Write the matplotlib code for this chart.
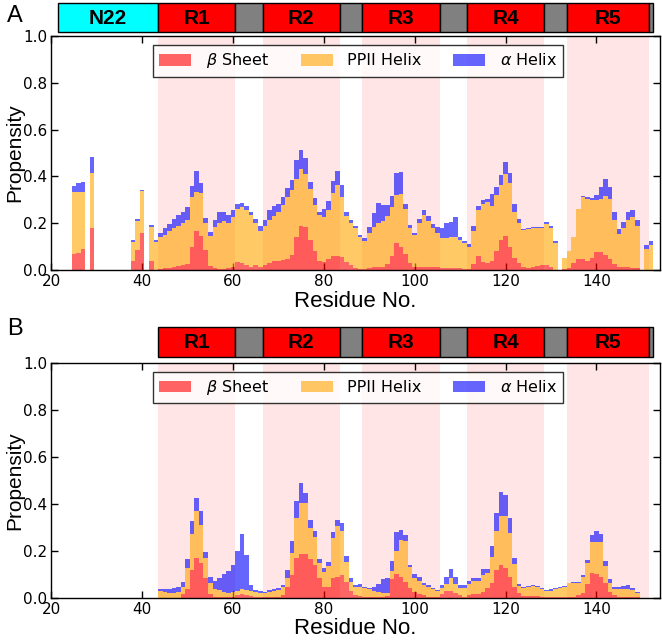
import numpy as np
import matplotlib
matplotlib.use("Agg")
import matplotlib.pyplot as plt
from matplotlib.patches import Rectangle

plt.rcParams['font.family'] = ['DejaVu Sans']

# ---------------- data ----------------
# Panel A residues (gaps = no data)
residues_A = [25, 26, 27, 29, 38, 39, 40] + list(range(42, 132)) + list(range(133, 150)) + [151, 152]
beta_A = [0.07, 0.072, 0.09, 0.18, 0.04, 0.087, 0.16,
          0.04, 0.0, 0.005, 0.007, 0.01, 0.013, 0.016, 0.02, 0.026, 0.1,
          0.166, 0.145, 0.085, 0.018, 0.008, 0.006, 0.006, 0.01, 0.015, 0.035,
          0.03, 0.02, 0.015, 0.02, 0.015, 0.02, 0.03, 0.04, 0.04, 0.042,
          0.045, 0.065, 0.14, 0.19, 0.185, 0.13, 0.08, 0.04, 0.035, 0.045,
          0.06, 0.058, 0.055, 0.035, 0.02, 0.01, 0.005, 0.005, 0.01, 0.012,
          0.012, 0.015, 0.026, 0.06, 0.114, 0.1, 0.07, 0.03, 0.015, 0.012,
          0.015, 0.015, 0.012, 0.012, 0.01, 0.008, 0.008, 0.01, 0.008, 0.006,
          0.005, 0.025, 0.06, 0.035, 0.028, 0.04, 0.08, 0.128, 0.145, 0.1,
          0.05, 0.03, 0.015, 0.01, 0.015, 0.018, 0.02, 0.02, 0.012, 0.0,
          0.005, 0.01, 0.03, 0.045, 0.045, 0.04, 0.05, 0.075, 0.075, 0.065,
          0.045, 0.025, 0.015, 0.015, 0.012, 0.01, 0.01,
          0.0, 0.0]
ppii_A = [0.265, 0.263, 0.245, 0.235, 0.08, 0.123, 0.178,
          0.143, 0.12, 0.135, 0.143, 0.155, 0.165, 0.174, 0.18, 0.189, 0.21,
          0.169, 0.185, 0.115, 0.127, 0.177, 0.194, 0.204, 0.19, 0.21, 0.225,
          0.24, 0.235, 0.22, 0.18, 0.153, 0.17, 0.185, 0.192, 0.207, 0.234,
          0.265, 0.275, 0.25, 0.24, 0.225, 0.215, 0.2, 0.195, 0.19, 0.21,
          0.27, 0.307, 0.255, 0.195, 0.18, 0.17, 0.135, 0.121, 0.15, 0.171,
          0.188, 0.195, 0.207, 0.21, 0.206, 0.225, 0.19, 0.15, 0.135, 0.188,
          0.22, 0.195, 0.168, 0.148, 0.125, 0.127, 0.132, 0.13, 0.122, 0.109,
          0.095, 0.141, 0.195, 0.248, 0.262, 0.232, 0.24, 0.234, 0.265, 0.27,
          0.197, 0.17, 0.155, 0.165, 0.163, 0.162, 0.16, 0.175, 0.168, 0.115,
          0.045, 0.07, 0.11, 0.215, 0.265, 0.265, 0.25, 0.225, 0.23, 0.25,
          0.26, 0.19, 0.14, 0.165, 0.203, 0.215, 0.18,
          0.09, 0.105]
alpha_A = [0.025, 0.035, 0.043, 0.069, 0.01, 0.01, 0.005,
           0.01, 0.01, 0.02, 0.03, 0.032, 0.038, 0.045, 0.05, 0.055, 0.05,
           0.09, 0.042, 0.022, 0.017, 0.027, 0.046, 0.04, 0.035, 0.032, 0.023,
           0.015, 0.017, 0.015, 0.016, 0.018, 0.022, 0.042, 0.04, 0.035, 0.034,
           0.04, 0.045, 0.08, 0.085, 0.068, 0.03, 0.028, 0.015, 0.037, 0.04,
           0.052, 0.058, 0.055, 0.02, 0.012, 0.01, 0.01, 0.01, 0.025, 0.062,
           0.086, 0.07, 0.043, 0.048, 0.095, 0.094, 0.023, 0.012, 0.01, 0.02,
           0.022, 0.02, 0.018, 0.025, 0.045, 0.065, 0.065, 0.086, 0.01, 0.011,
           0.012, 0.02, 0.017, 0.015, 0.015, 0.054, 0.035, 0.043, 0.052, 0.045,
           0.036, 0.019, 0.006, 0.005, 0.005, 0.005, 0.005, 0.01, 0.01, 0.01,
           0.0, 0.0, 0.0, 0.002, 0.005, 0.007, 0.009, 0.019, 0.05, 0.075,
           0.05, 0.035, 0.021, 0.025, 0.032, 0.033, 0.022,
           0.017, 0.021]

# Panel B residues
residues_B = list(range(44, 150))
beta_B = [0, 0, 0, 0, 0, 0.015, 0.035, 0.12, 0.168, 0.148,
          0.082, 0.016, 0.004, 0.003, 0.003, 0.003, 0.004, 0.01, 0.017, 0.012,
          0.007, 0.003, 0.003, 0.003, 0.003, 0.005, 0.005, 0.012, 0.045, 0.095,
          0.17, 0.188, 0.185, 0.165, 0.14, 0.085, 0.045, 0.045, 0.085, 0.09,
          0.095, 0.065, 0.03, 0.012, 0.008, 0.005, 0.005, 0.003, 0.004, 0.005,
          0.006, 0.08, 0.1, 0.09, 0.065, 0.04, 0.025, 0.015, 0.01, 0.005,
          0.005, 0.005, 0.015, 0.03, 0.03, 0.02, 0.01, 0.005, 0.012, 0.015,
          0.015, 0.025, 0.04, 0.061, 0.118, 0.139, 0.128, 0.09, 0.047, 0.018,
          0.008, 0.006, 0.006, 0.006, 0.005, 0.004, 0.004, 0.004, 0.004, 0.005,
          0.005, 0.005, 0.01, 0.02, 0.06, 0.105, 0.1, 0.09, 0.062, 0.025,
          0.01, 0.005, 0.005, 0.005, 0.005, 0.005]
ppii_B = [0.03, 0.024, 0.021, 0.021, 0.025, 0.032, 0.09, 0.149, 0.201, 0.163,
          0.087, 0.045, 0.031, 0.03, 0.022, 0.019, 0.022, 0.02, 0.018, 0.02,
          0.023, 0.022, 0.015, 0.017, 0.022, 0.025, 0.028, 0.033, 0.04, 0.095,
          0.17, 0.217, 0.217, 0.13, 0.118, 0.062, 0.066, 0.088, 0.169, 0.217,
          0.191, 0.089, 0.036, 0.033, 0.037, 0.037, 0.031, 0.027, 0.021, 0.017,
          0.014, 0.035, 0.1, 0.155, 0.175, 0.09, 0.06, 0.055, 0.045, 0.04,
          0.03, 0.023, 0.025, 0.03, 0.055, 0.04, 0.03, 0.035, 0.048, 0.055,
          0.055, 0.07, 0.064, 0.111, 0.164, 0.207, 0.218, 0.187, 0.097, 0.032,
          0.032, 0.041, 0.044, 0.041, 0.031, 0.026, 0.026, 0.032, 0.036, 0.042,
          0.056, 0.059, 0.054, 0.067, 0.087, 0.13, 0.139, 0.149, 0.075, 0.036,
          0.027, 0.031, 0.032, 0.032, 0.028, 0.015]
alpha_B = [0.007, 0.012, 0.017, 0.022, 0.019, 0.018, 0.039, 0.057, 0.054, 0.058,
           0.025, 0.025, 0.037, 0.05, 0.075, 0.093, 0.114, 0.169, 0.237, 0.15,
           0.024, 0.008, 0.01, 0.006, 0.008, 0.007, 0.007, 0.009, 0.031, 0.05,
           0.072, 0.083, 0.043, 0.035, 0.027, 0.019, 0.016, 0.019, 0.026, 0.024,
           0.034, 0.024, 0.019, 0.009, 0.012, 0.005, 0.004, 0.017, 0.032, 0.056,
           0.063, 0.041, 0.079, 0.044, 0.025, 0.01, 0.015, 0.02, 0.009, 0.009,
           0.005, 0.005, 0.014, 0.03, 0.036, 0.027, 0.014, 0.014, 0.011, 0.013,
           0.013, 0.027, 0.017, 0.046, 0.078, 0.104, 0.092, 0.062, 0.024, 0.007,
           0.005, 0.004, 0.004, 0.004, 0.004, 0.003, 0.006, 0.004, 0.004, 0.001,
           0.001, 0.001, 0.002, 0.01, 0.014, 0.03, 0.047, 0.031, 0.019, 0.017,
           0.01, 0.011, 0.013, 0.016, 0.007, 0.006]

# domain map (residue ranges)
repeat_names = ["R1", "R2", "R3", "R4", "R5"]
repeat_start = [44, 67, 89, 112, 134]
repeat_end = [60, 83, 105, 128, 151]
nterm_name = "N22"
nterm_range = (22, 43)
protein_end = 152

series_labels = [r"$\beta$ Sheet", "PPII Helix", r"$\alpha$ Helix"]
series_colors = ["red", "orange", "blue"]
x_ticks = [20, 40, 60, 80, 100, 120, 140]
y_ticks = [0.0, 0.2, 0.4, 0.6, 0.8, 1.0]
XLIM = (20, 154)

# ---------------- figure ----------------
fig = plt.figure(figsize=(6.62, 6.42), dpi=100)
L, W = 0.0775, 0.9195
LABEL_FONT = ['Liberation Sans', 'DejaVu Sans']

def draw_domains(ax, with_nterm):
    ax.set_xlim(*XLIM)
    ax.set_ylim(0, 1)
    ax.axis('off')
    segs = []
    if with_nterm:
        segs.append((nterm_range[0], nterm_range[1], 'cyan', nterm_name))
    for i, (n, s, e) in enumerate(zip(repeat_names, repeat_start, repeat_end)):
        segs.append((s, e, 'red', n))
        nxt = repeat_start[i + 1] - 1 if i + 1 < len(repeat_start) else protein_end
        segs.append((e + 1, nxt, 'gray', ''))
    for s, e, c, n in segs:
        ax.add_patch(Rectangle((s - 0.5, 0), e - s + 1, 1, facecolor=c,
                               edgecolor='black', lw=1.0, clip_on=False))
        if n:
            ax.text((s + e) / 2, 0.47, n, ha='center', va='center',
                    fontsize=15, fontweight='bold', family=LABEL_FONT)

def draw_panel(ax, res, beta, ppii, alpha):
    res = np.asarray(res)
    b = np.asarray(beta); p = np.asarray(ppii); a = np.asarray(alpha)
    for s, e in zip(repeat_start, repeat_end):
        ax.axvspan(s - 0.5, e + 0.5, color='red', alpha=0.1, lw=0, zorder=0)
    h1 = ax.bar(res, b, width=1.0, color=series_colors[0], alpha=0.6, lw=0, zorder=2)
    h2 = ax.bar(res, p, width=1.0, bottom=b, color=series_colors[1], alpha=0.6, lw=0, zorder=2)
    h3 = ax.bar(res, a, width=1.0, bottom=b + p, color=series_colors[2], alpha=0.6, lw=0, zorder=2)
    ax.set_xlim(*XLIM)
    ax.set_ylim(0, 1)
    ax.set_xticks(x_ticks)
    ax.set_yticks(y_ticks)
    ax.set_yticklabels([f"{v:.1f}" for v in y_ticks])
    ax.tick_params(direction='in', top=True, right=True, length=5, width=1,
                   labelsize=11, pad=3)
    for sp in ax.spines.values():
        sp.set_linewidth(1.0)
    ax.set_xlabel("Residue No.", fontsize=16, labelpad=1, family=LABEL_FONT)
    ax.set_ylabel("Propensity", fontsize=15, family=LABEL_FONT)
    ax.yaxis.set_label_coords(-0.045, 0.5)
    leg = ax.legend([h1, h2, h3], series_labels, loc='upper center',
                    bbox_to_anchor=(0.504, 0.962), borderaxespad=0, ncol=3,
                    fontsize=11.5, frameon=True, fancybox=False,
                    handlelength=2.0, handleheight=0.75, handletextpad=0.9,
                    columnspacing=2.0, borderpad=0.4)
    leg.get_frame().set_edgecolor('black')
    leg.get_frame().set_linewidth(1.0)

axA = fig.add_axes([L, 0.5794, W, 0.3645])
domA = fig.add_axes([L, 0.9502, W, 0.0447])
axB = fig.add_axes([L, 0.069, W, 0.366])
domB = fig.add_axes([L, 0.4444, W, 0.0458])

draw_panel(axA, residues_A, beta_A, ppii_A, alpha_A)
draw_domains(domA, True)
draw_panel(axB, residues_B, beta_B, ppii_B, alpha_B)
draw_domains(domB, False)

fig.text(0.022, 0.975, "A", fontsize=17, ha='center', va='center', family=LABEL_FONT)
fig.text(0.022, 0.487, "B", fontsize=17, ha='center', va='center', family=LABEL_FONT)

fig.savefig("out.png", dpi=100)
